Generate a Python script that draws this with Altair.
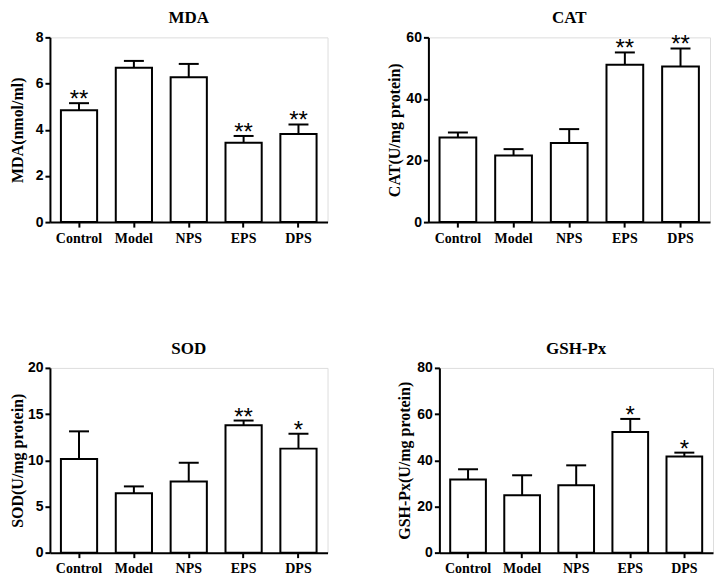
import altair as alt
import pandas as pd

groups = ["Control", "Model", "NPS", "EPS", "DPS"]

mda_mean = [4.84, 6.68, 6.27, 3.44, 3.81]
mda_err = [0.31, 0.30, 0.58, 0.29, 0.42]
mda_sig = ["**", "", "", "**", "**"]

cat_mean = [27.5, 21.6, 25.7, 51.1, 50.5]
cat_err = [1.6, 2.1, 4.5, 4.0, 5.9]
cat_sig = ["", "", "", "**", "**"]

sod_mean = [10.13, 6.42, 7.7, 13.8, 11.26]
sod_err = [3.0, 0.75, 2.03, 0.5, 1.6]
sod_sig = ["", "", "", "**", "*"]

gsh_mean = [31.7, 24.9, 29.2, 52.2, 41.6]
gsh_err = [4.4, 8.6, 8.6, 5.7, 1.7]
gsh_sig = ["", "", "", "*", "*"]

SERIF = "Liberation Serif"
SANS = "Liberation Sans"


def panel(title, ytitle, means, errs, sigs, ymax, step, tpad, width):
    df = pd.DataFrame({
        "group": groups,
        "mean": means,
        "top": [m + e for m, e in zip(means, errs)],
        "sig": sigs,
    })
    x = alt.X("group:N", sort=groups, title=None,
              scale=alt.Scale(paddingInner=0.34, paddingOuter=0.2),
              axis=alt.Axis(labelAngle=0, labelFont=SERIF, labelFontWeight="bold",
                            labelFontSize=14, labelColor="black", domainColor="black",
                            domainWidth=2, tickColor="black", tickWidth=2, tickSize=5,
                            labelPadding=4))
    yscale = alt.Scale(domain=[0, ymax], nice=False)
    yaxis = alt.Axis(values=list(range(0, ymax + 1, step)), title=ytitle,
                     titleFont=SERIF, titleFontWeight="bold", titleFontSize=16,
                     titleColor="black", titlePadding=tpad,
                     labelFont=SANS, labelFontWeight="bold", labelFontSize=14,
                     labelColor="black", domainColor="black", domainWidth=2,
                     tickColor="black", tickWidth=2, tickSize=5, grid=False,
                     labelPadding=2)
    base = alt.Chart(df).encode(x=x)
    bars = base.mark_bar(fill="white", stroke="black", strokeWidth=2).encode(
        y=alt.Y("mean:Q", scale=yscale, axis=yaxis))
    rule = base.mark_rule(color="black", strokeWidth=2).encode(
        y=alt.Y("mean:Q", scale=yscale), y2="top:Q")
    cap = base.mark_tick(color="black", thickness=2, size=20, opacity=1).encode(
        y=alt.Y("top:Q", scale=yscale))
    txt = base.mark_text(font=SANS, fontSize=24, baseline="alphabetic", dy=4,
                         color="black").encode(
        y=alt.Y("top:Q", scale=yscale), text="sig:N")
    return alt.layer(bars, rule, cap, txt).properties(
        width=width, height=185,
        title=alt.TitleParams(title, font=SERIF, fontWeight="bold", fontSize=17,
                              color="black", offset=3))


p1 = panel("MDA", "MDA(nmol/ml)", mda_mean, mda_err, mda_sig, 8, 2, 10, 278)
p2 = panel("CAT", "CAT(U/mg protein)", cat_mean, cat_err, cat_sig, 60, 20, 3, 282)
p3 = panel("SOD", "SOD(U/mg protein)", sod_mean, sod_err, sod_sig, 20, 5, 2, 278)
p4 = panel("GSH-Px", "GSH-Px(U/mg protein)", gsh_mean, gsh_err, gsh_sig, 80, 20, 4, 274)

chart = alt.vconcat(
    alt.hconcat(p1, p2, spacing=57),
    alt.hconcat(p3, p4, spacing=67),
    spacing=93,
).properties(
    padding={"left": 0, "top": 0, "right": 0, "bottom": 0}
).configure_view(stroke=None).configure(background="white")

chart.save("out.html", embed_options={"renderer": "svg", "actions": False})
